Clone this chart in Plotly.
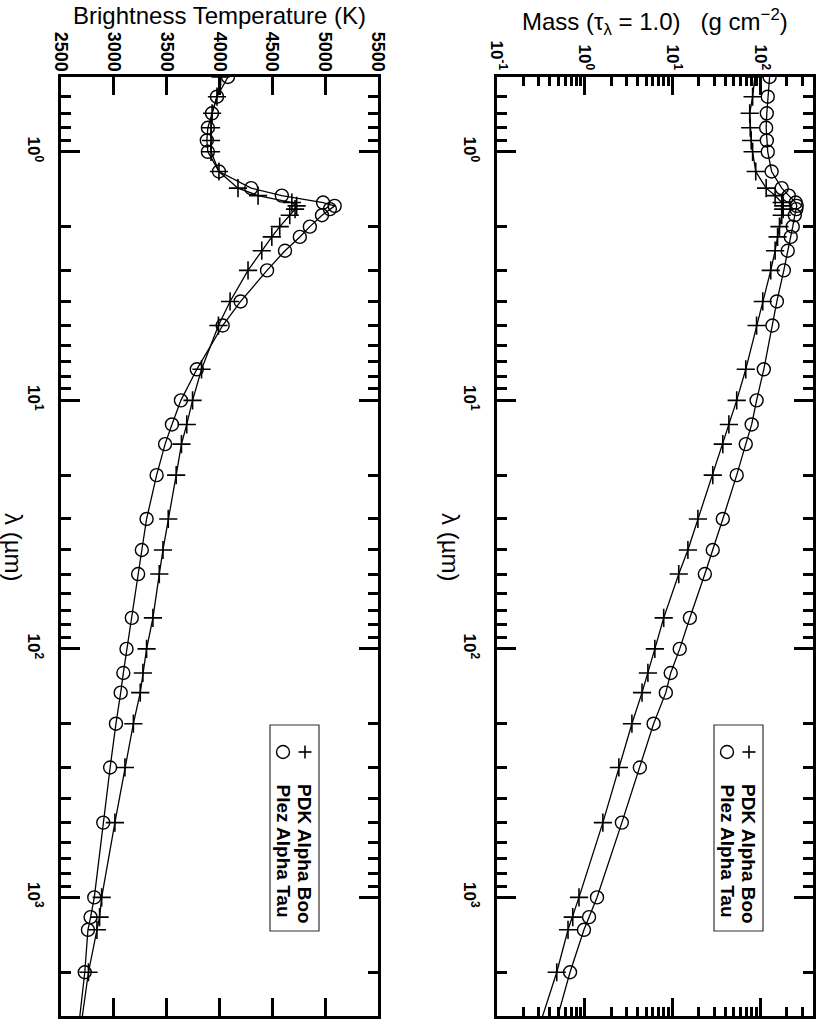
import numpy as np
import plotly.graph_objects as go

# ---------------- data ----------------
wavelength = [0.5, 0.6, 0.7, 0.8, 0.9, 1.0, 1.2, 1.4, 1.5, 1.6, 1.65, 1.7, 1.8, 2.0, 2.2, 2.5,
              3.0, 4.0, 5.0, 7.5, 10, 12.5, 15, 20, 30, 40, 50, 75, 100, 125, 150, 200, 300,
              500, 1000, 1200, 1350, 2000, 10000]

tb_pdk = [4010, 3976, 3930, 3920, 3920, 3920, 3995, 4175, 4365, 4685, 4730, 4715, 4665, 4570,
          4495, 4400, 4270, 4100, 3990, 3830, 3745, 3690, 3640, 3590, 3515, 3465, 3430, 3370,
          3310, 3275, 3250, 3185, 3105, 3010, 2885, 2865, 2840, 2760, 2530]

tb_plez = [4080, 3976, 3929, 3890, 3880, 3890, 3995, 4300, 4590, 4980, 5090, 5045, 4970, 4855,
           4760, 4620, 4450, 4200, 4030, 3785, 3635, 3550, 3485, 3405, 3310, 3265, 3230, 3170,
           3120, 3090, 3065, 3020, 2965, 2900, 2815, 2780, 2755, 2725, 2540]

mass_pdk = [87, 82, 76, 77, 79, 82, 89, 117, 148, 176, 183, 183, 176, 166, 158, 148, 132, 107,
            91, 68.5, 54, 44, 37.5, 28.8, 19.5, 15, 11.8, 7.95, 6.3, 5.25, 4.5, 3.45, 2.45, 1.61,
            0.86, 0.73, 0.645, 0.48, 0.11]

mass_plez = [128, 122, 119, 117, 119, 122, 135, 176, 212, 254, 261, 258, 248, 235, 223, 206,
             186, 155, 138, 110, 91, 80, 68.5, 54, 37.5, 28.8, 23.4, 15.8, 12.1, 9.55, 8.4, 6.1,
             4.25, 2.65, 1.38, 1.12, 0.98, 0.68, 0.19]

series_names = ["PDK Alpha Boo", "Plez Alpha Tau"]
temp_ticks = [2500, 3000, 3500, 4000, 4500, 5000, 5500]
wl_major = [1, 10, 100, 1000]
wl_major_text = ["<b>10<sup>0</sup></b>", "<b>10<sup>1</sup></b>", "<b>10<sup>2</sup></b>",
                 "<b>10<sup>3</sup></b>"]
mass_major = [0.1, 1, 10, 100]
mass_major_text = ["<b>10<sup>-1</sup></b>", "<b>10<sup>0</sup></b>", "<b>10<sup>1</sup></b>",
                   "<b>10<sup>2</sup></b>"]

W, H = 830, 1029
FONT = "Liberation Sans, Arial, Helvetica, sans-serif"


def px(x):
    return x / W


def py(y):
    return 1 - y / H


wl_min, wl_max = 0.5, 3000
mass_min, mass_max = 0.1, 400

wl_minor = [m * 10 ** d for d in range(-1, 4) for m in range(2, 10)
            if wl_min < m * 10 ** d < wl_max]
mass_minor = [m * 10 ** d for d in range(-1, 3) for m in range(2, 10)
              if mass_min < m * 10 ** d < mass_max]

fig = go.Figure()

line_style = dict(color="black", width=1.3)
sym_pdk = dict(symbol="cross-thin-open", size=13, color="black", line=dict(color="black", width=1.6))
sym_plez = dict(symbol="circle-open", size=13, color="black", line=dict(color="black", width=1.4))

fig.add_trace(go.Scatter(x=tb_pdk, y=wavelength, mode="lines+markers", name=series_names[0],
                         line=line_style, marker=sym_pdk, xaxis="x", yaxis="y"))
fig.add_trace(go.Scatter(x=tb_plez, y=wavelength, mode="lines+markers", name=series_names[1],
                         line=line_style, marker=sym_plez, xaxis="x", yaxis="y"))
fig.add_trace(go.Scatter(x=mass_pdk, y=wavelength, mode="lines+markers", name=series_names[0],
                         line=line_style, marker=sym_pdk, xaxis="x2", yaxis="y2"))
fig.add_trace(go.Scatter(x=mass_plez, y=wavelength, mode="lines+markers", name=series_names[1],
                         line=line_style, marker=sym_plez, xaxis="x2", yaxis="y2"))

ydom = [py(1016), py(77)]
common = dict(showline=True, linewidth=3, linecolor="black", mirror="ticks", ticks="inside",
              tickwidth=3, tickcolor="black", showgrid=False, zeroline=False, automargin=False)

yax = dict(common, type="log", domain=ydom, range=[np.log10(wl_max), np.log10(wl_min)],
           tickvals=wl_major, ticktext=wl_major_text, ticklen=19, tickangle=90,
           tickfont=dict(family=FONT, size=17, color="black"),
           ticklabelstandoff=10,
           minor=dict(tickvals=wl_minor, ticks="inside", ticklen=10, tickwidth=3,
                      tickcolor="black", showgrid=False))

fig.update_layout(
    width=W, height=H,
    margin=dict(l=0, r=0, t=0, b=0, autoexpand=False),
    paper_bgcolor="white", plot_bgcolor="white",
    showlegend=False,
    xaxis=dict(common, domain=[px(61), px(378)], range=[2500, 5500], side="top", anchor="y",
               tickvals=temp_ticks, ticktext=["<b>%d</b>" % t for t in temp_ticks], ticklen=18,
               tickangle=90, ticklabelstandoff=-4,
               tickfont=dict(family=FONT, size=18, color="black")),
    yaxis=dict(yax, anchor="x"),
    xaxis2=dict(common, type="log", domain=[px(497), px(813)],
                range=[np.log10(mass_min), np.log10(mass_max)], side="top", anchor="y2",
                tickvals=mass_major, ticktext=mass_major_text, ticklen=18, tickangle=90,
                ticklabelstandoff=-2,
                tickfont=dict(family=FONT, size=17, color="black"),
                minor=dict(tickvals=mass_minor, ticks="inside", ticklen=9, tickwidth=3,
                           tickcolor="black", showgrid=False)),
    yaxis2=dict(yax, anchor="x2"),
)

annots = [
    dict(text="Brightness Temperature (K)", x=px(219.5), y=py(16), size=24, angle=0),
    dict(text="Mass (\u03c4<sub>\u03bb</sub> = 1.0)\u00a0\u00a0\u00a0(g cm<sup>\u22122</sup>)",
         x=px(655), y=py(22), size=24, angle=0),
    dict(text="\u03bb (\u00b5m)", x=px(14), y=py(547), size=24, angle=90),
    dict(text="\u03bb (\u00b5m)", x=px(451), y=py(547), size=24, angle=90),
]
for a in annots:
    fig.add_annotation(text=a["text"], x=a["x"], y=a["y"], xref="paper", yref="paper",
                       showarrow=False, textangle=a["angle"], xanchor="center", yanchor="middle",
                       font=dict(family=FONT, size=a["size"], color="black"))

# legends (boxes, symbols, labels)
for x0, x1 in [(270, 319), (714, 763)]:
    fig.add_shape(type="rect", xref="paper", yref="paper", x0=px(x0), x1=px(x1),
                  y0=py(931), y1=py(725), line=dict(color="#333333", width=1.2))
    xr = x1 - 14   # first entry (+)
    xc = x0 + 13   # second entry (o)
    sy = 752
    fig.add_shape(type="line", xref="paper", yref="paper", x0=px(xr - 6.5), x1=px(xr + 6.5),
                  y0=py(sy), y1=py(sy), line=dict(color="black", width=1.6))
    fig.add_shape(type="line", xref="paper", yref="paper", x0=px(xr), x1=px(xr),
                  y0=py(sy - 6.5), y1=py(sy + 6.5), line=dict(color="black", width=1.6))
    fig.add_shape(type="circle", xref="paper", yref="paper", x0=px(xc - 6.5), x1=px(xc + 6.5),
                  y0=py(sy + 6.5), y1=py(sy - 6.5), line=dict(color="black", width=1.4))
    for xx, name in [(xr, series_names[0]), (xc, series_names[1])]:
        fig.add_annotation(text="<b>" + name + "</b>", x=px(xx), y=py(782), xref="paper",
                           yref="paper", showarrow=False, textangle=90, xanchor="center",
                           yanchor="top", font=dict(family=FONT, size=19, color="black"))

fig.write_html("out.html", config={"displayModeBar": False},
               post_script="document.body.style.margin='0';document.body.style.padding='0';")
